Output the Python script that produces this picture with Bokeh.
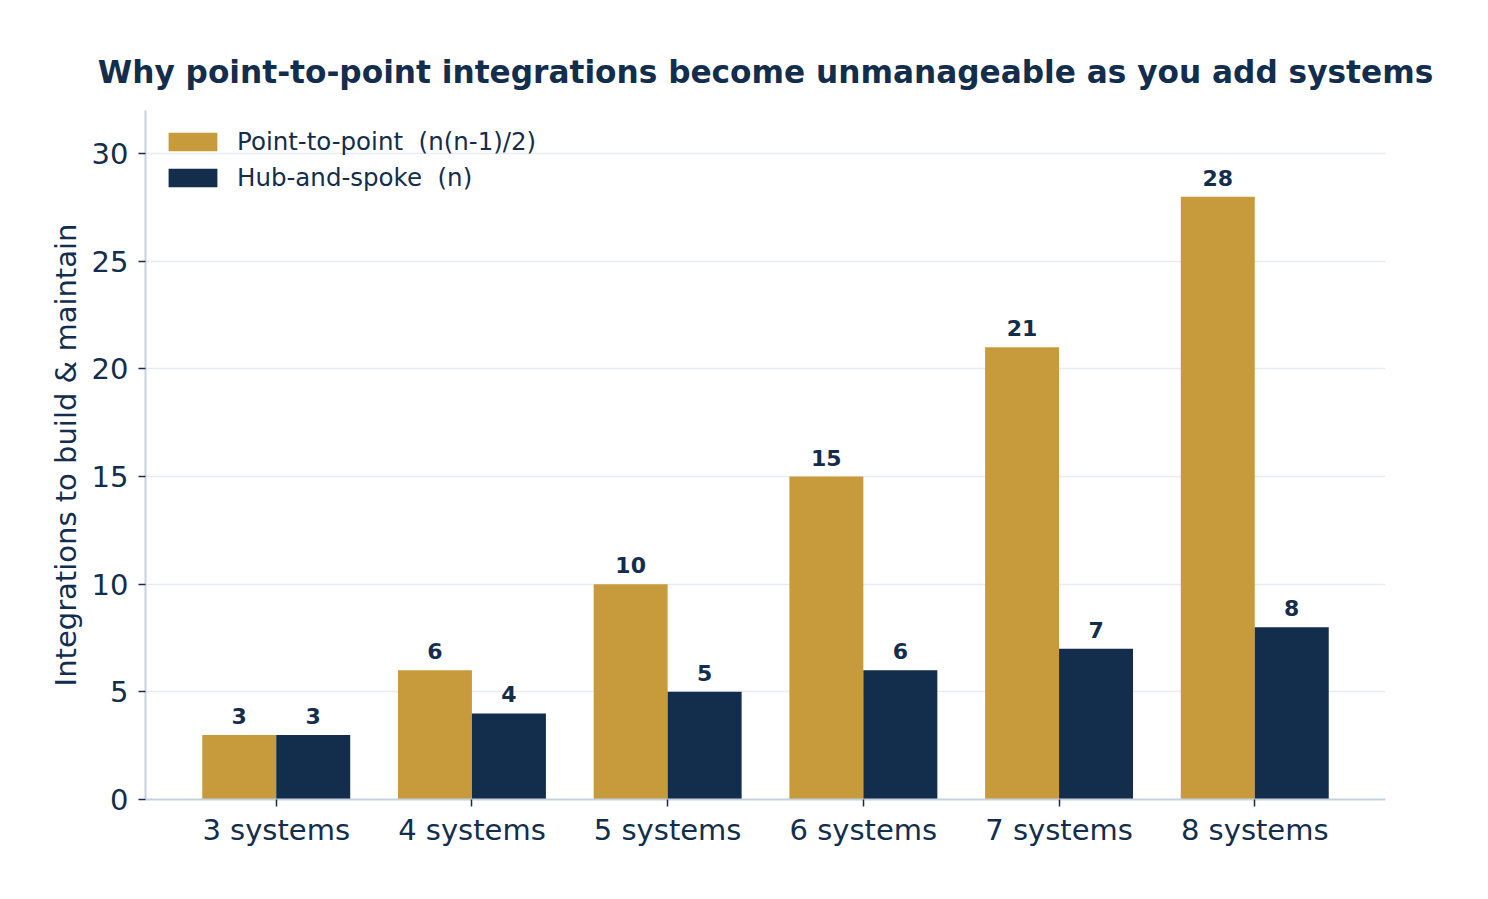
from bokeh.plotting import figure
from bokeh.models import ColumnDataSource, FactorRange, Range1d, FixedTicker, Legend, LegendItem, LabelSet
from bokeh.transform import dodge
from bokeh.core.properties import value
from bokeh.embed import file_html
from bokeh.resources import INLINE

systems = ["3 systems", "4 systems", "5 systems", "6 systems", "7 systems", "8 systems"]
point_to_point = [3, 6, 10, 15, 21, 28]
hub_and_spoke = [3, 4, 5, 6, 7, 8]
y_ticks = [0, 5, 10, 15, 20, 25, 30]

GOLD = "#C79B3C"
NAVY = "#132D4D"
AXIS = "#C7D1DE"
GRID = "#E8ECF0"
FONT = "DejaVu Sans"

src = ColumnDataSource(dict(
    sys=systems,
    p2p=point_to_point,
    hub=hub_and_spoke,
    p2p_lbl=[str(v) for v in point_to_point],
    hub_lbl=[str(v) for v in hub_and_spoke],
))

p = figure(
    width=1472, height=883,
    x_range=FactorRange(factors=systems, range_padding=0.056),
    y_range=Range1d(0, 32),
    output_backend="svg", toolbar_location=None,
    min_border_left=145, min_border_right=87, min_border_top=110, min_border_bottom=84,
)

p.title.text = "Why point-to-point integrations become unmanageable as you add systems"
p.title.align = "center"
p.title.text_font = FONT
p.title.text_font_size = "31.2px"
p.title.text_font_style = "bold"
p.title.text_color = NAVY
p.title.standoff = 42

bw = 0.378
r1 = p.vbar(x=dodge("sys", -0.189, range=p.x_range), top="p2p", width=bw, source=src,
            fill_color=GOLD, line_color=None)
r2 = p.vbar(x=dodge("sys", 0.189, range=p.x_range), top="hub", width=bw, source=src,
            fill_color=NAVY, line_color=None)

for col, off in (("p2p", -0.189), ("hub", 0.189)):
    lbl = LabelSet(x=dodge("sys", off, range=p.x_range), y=col, text=col + "_lbl", source=src,
                   text_align="center", text_baseline="alphabetic", y_offset=11,
                   text_font=value(FONT), text_font_size=value("22px"), text_font_style="bold",
                   text_color=NAVY)
    p.add_layout(lbl)

legend = Legend(items=[
    LegendItem(label="Point-to-point  (n(n-1)/2)", renderers=[r1]),
    LegendItem(label="Hub-and-spoke  (n)", renderers=[r2]),
], location="top_left")
legend.margin = 8
legend.padding = 9
legend.glyph_width = 61
legend.glyph_height = 23
legend.label_standoff = 14
legend.spacing = 7
legend.label_text_font = FONT
legend.label_text_font_size = "24.5px"
legend.label_text_color = NAVY
legend.border_line_alpha = 0
legend.background_fill_alpha = 0
p.add_layout(legend, "center")

p.xgrid.grid_line_color = None
p.ygrid.grid_line_color = GRID
p.ygrid.grid_line_width = 1.5
p.ygrid.ticker = FixedTicker(ticks=y_ticks)

p.yaxis.ticker = FixedTicker(ticks=y_ticks)
p.yaxis.axis_label = "Integrations to build & maintain"
for ax in (p.xaxis[0], p.yaxis[0]):
    ax.axis_line_color = AXIS
    ax.axis_line_width = 2
    ax.major_tick_line_color = NAVY
    ax.major_tick_line_width = 1.5
    ax.major_tick_in = 0
    ax.major_tick_out = 7
    ax.minor_tick_line_color = None
    ax.major_label_text_font = FONT
    ax.major_label_text_font_size = "29px"
    ax.major_label_text_color = NAVY
    ax.axis_label_text_font = FONT
    ax.axis_label_text_font_size = "29px"
    ax.axis_label_text_font_style = "normal"
    ax.axis_label_text_color = NAVY
p.yaxis.major_label_standoff = 10
p.yaxis.axis_label_standoff = 6
p.xaxis.major_label_standoff = 6

p.outline_line_color = None
p.background_fill_color = "white"
p.border_fill_color = "white"

open("out.html", "w").write(file_html(p, INLINE))
